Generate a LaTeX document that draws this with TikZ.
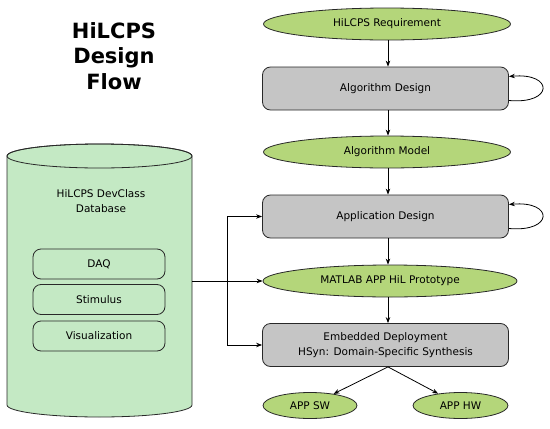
\documentclass[tikz,border=0pt]{standalone}
\usepackage{fontspec}
\setmainfont{DejaVu Sans}
\usetikzlibrary{shapes.geometric,arrows.meta}
\definecolor{ellgreen}{RGB}{180,214,122}
\definecolor{dbgreen}{RGB}{196,233,196}
\definecolor{boxgray}{RGB}{197,197,197}
\definecolor{edge}{RGB}{40,40,40}
\tikzset{
  ellnode/.style={ellipse, draw=edge, line width=0.8pt, fill=ellgreen, inner sep=0pt,
    font=\fontsize{10.5}{13}\selectfont, text=black},
  graybox/.style={rectangle, rounded corners=8pt, draw=edge, line width=0.8pt, fill=boxgray,
    minimum width=246pt, minimum height=43pt, inner sep=0pt, align=center,
    font=\fontsize{10.5}{15}\selectfont, text=black},
  dbbox/.style={rectangle, rounded corners=8pt, draw=edge, line width=0.8pt, fill=dbgreen,
    minimum width=132pt, minimum height=30pt, inner sep=0pt,
    font=\fontsize{10.5}{13}\selectfont, text=black},
  conn/.style={draw=black, line width=0.8pt, -{Stealth[length=6pt,width=4.5pt]}},
}
\begin{document}
\begin{tikzpicture}[x=1pt,y=-1pt]
\useasboundingbox (0,0) rectangle (550,429);
% title
\node[font=\bfseries\fontsize{21}{25.5}\selectfont, align=center, anchor=center] (title) at (114,56) {HiLCPS\\Design\\Flow};
% cylinder
\path[fill=dbgreen, draw=edge, line width=0.8pt]
  (7,156) -- (7,405) arc[start angle=180, end angle=0, x radius=92.5, y radius=12]
  -- (192,156) arc[start angle=0, end angle=-180, x radius=92.5, y radius=12] -- cycle;
\draw[edge, line width=0.8pt] (99.5,156) ellipse[x radius=92.5, y radius=12];
\coordinate (dbright) at (192,281);
\node[align=center, font=\fontsize{10.5}{15}\selectfont, text=black] (dbtext) at (101,201) {HiLCPS DevClass\\Database};
\node[dbbox] (daq) at (99,264) {DAQ};
\node[dbbox] (stim) at (99,299.5) {Stimulus};
\node[dbbox] (vis) at (99,336) {Visualization};
% right column
\node[ellnode, minimum width=247pt, minimum height=32pt] (req) at (387,24) {HiLCPS Requirement};
\node[graybox] (alg) at (385.5,88.5) {Algorithm Design};
\node[ellnode, minimum width=247pt, minimum height=32pt] (model) at (387,152) {Algorithm Model};
\node[graybox] (app) at (385.5,216.5) {Application Design};
\node[ellnode, minimum width=254pt, minimum height=32pt] (proto) at (390,281) {MATLAB APP HiL Prototype};
\node[graybox] (emb) at (385.5,345) {Embedded Deployment\\HSyn: Domain-Specific Synthesis};
\node[ellnode, minimum width=94pt, minimum height=26pt] (sw) at (310,405.5) {APP SW};
\node[ellnode, minimum width=95pt, minimum height=26pt] (hw) at (460.5,405.5) {APP HW};
% vertical flow
\draw[conn] (req.south -| 388,0) -- (alg.north -| 388,0);
\draw[conn] (alg.south -| 388,0) -- (model.north -| 388,0);
\draw[conn] (model.south -| 388,0) -- (app.north -| 388,0);
\draw[conn] (app.south -| 388,0) -- (proto.north -| 388,0);
\draw[conn] (proto.south -| 388,0) -- (emb.north -| 388,0);
\draw[conn] (emb.south -| 388,0) -- (sw);
\draw[conn] (emb.south -| 388,0) -- (hw);
% self loops
\draw[conn] ([yshift=-12pt]alg.east) .. controls +(45,4) and +(45,-4) .. ([yshift=12pt]alg.east);
\draw[conn] ([yshift=-12pt]app.east) .. controls +(45,4) and +(45,-4) .. ([yshift=12pt]app.east);
% database links
\coordinate (branch) at (227,281);
\draw[conn] (dbright) -- (proto.west);
\draw[conn] (branch) |- (app.west);
\draw[conn] (branch) |- (emb.west);
\end{tikzpicture}
\end{document}
